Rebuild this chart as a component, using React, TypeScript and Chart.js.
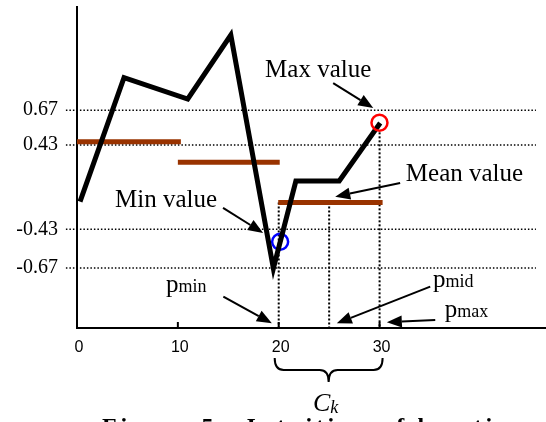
import React, { useEffect, useRef } from 'react';
import { Chart, registerables } from 'chart.js';

Chart.register(...registerables);

// ---- data ----
const seriesX = [0.3, 4.66, 10.98, 15.25, 19.47, 21.7, 26.0, 30.06];
const seriesY = [-0.148, 1.117, 0.9, 1.553, -0.828, 0.063, 0.063, 0.655];

const meanStart = [0, 10, 19.95];
const meanEnd = [10.3, 20.1, 30.3];
const meanValues = [0.464, 0.254, -0.156];

const yTickPositions = [0.786, 0.43, -0.43, -0.824];
const yTickLabels = ['0.67', '0.43', '-0.43', '-0.67'];
const xTicks = [0, 10, 20, 30];
const xRange = [0, 46.5];
const yRange = [-1.437, 1.839];
const guideRange = [-1.1, 45.5];

const markerX = [20, 25, 30];
const markerTop = [-0.156, -0.156, 0.56];

const maxPoint = [29.99, 0.658];
const minPoint = [20.14, -0.556];

const labelTexts = ['Max value', 'Mean value', 'Min value'];
const labelX = [18.65, 32.6, 3.77];
const labelY = [1.128, 0.063, -0.199];

const pSubs = ['min', 'mid', 'max'];
const pX = [8.83, 35.3, 36.47];
const pY = [-1.069, -1.018, -1.324];

const arrowFromX = [25.4, 32.04, 14.48, 14.51, 35.02, 35.52];
const arrowFromY = [1.063, 0.043, -0.212, -1.117, -1.015, -1.355];
const arrowToX = [29.37, 25.6, 18.45, 19.32, 25.76, 30.72];
const arrowToY = [0.808, -0.097, -0.467, -1.389, -1.389, -1.379];

const braceRange = [19.6, 30.3];
const clusterLabel = ['C', 'k'];
const caption = 'Figure 5.  Intuition of location';

const SERIF = '"Liberation Serif", "Times New Roman", serif';

function drawArrow(ctx: CanvasRenderingContext2D, x1: number, y1: number, x2: number, y2: number) {
  const dx = x2 - x1, dy = y2 - y1;
  const len = Math.hypot(dx, dy);
  const ux = dx / len, uy = dy / len;
  const head = 15, half = 6;
  const bx = x2 - ux * head, by = y2 - uy * head;
  ctx.beginPath();
  ctx.moveTo(x1, y1);
  ctx.lineTo(bx, by);
  ctx.stroke();
  ctx.beginPath();
  ctx.moveTo(x2, y2);
  ctx.lineTo(bx - uy * half, by + ux * half);
  ctx.lineTo(bx + uy * half, by - ux * half);
  ctx.closePath();
  ctx.fill();
}

const annotationPlugin = {
  id: 'annotations',
  afterDraw(chart: any) {
    const ctx: CanvasRenderingContext2D = chart.ctx;
    const xs = chart.scales.x, ys = chart.scales.y;
    const px = (v: number) => xs.getPixelForValue(v);
    const py = (v: number) => ys.getPixelForValue(v);
    ctx.save();
    ctx.strokeStyle = '#000';
    ctx.fillStyle = '#000';
    ctx.lineWidth = 2;
    // inward tick marks
    xTicks.forEach((t) => {
      ctx.beginPath();
      ctx.moveTo(px(t), ys.bottom);
      ctx.lineTo(px(t), ys.bottom - 6);
      ctx.stroke();
    });
    // text labels
    ctx.textAlign = 'left';
    ctx.textBaseline = 'alphabetic';
    ctx.font = `25px ${SERIF}`;
    labelTexts.forEach((t, i) => ctx.fillText(t, px(labelX[i]), py(labelY[i])));
    pSubs.forEach((s, i) => {
      const x = px(pX[i]), y = py(pY[i]);
      ctx.font = `25px ${SERIF}`;
      ctx.fillText('p', x, y);
      const w = ctx.measureText('p').width;
      ctx.font = `18px ${SERIF}`;
      ctx.fillText(s, x + w, y);
    });
    // arrows
    ctx.lineWidth = 2;
    arrowFromX.forEach((_, i) => {
      drawArrow(ctx, px(arrowFromX[i]), py(arrowFromY[i]), px(arrowToX[i]), py(arrowToY[i]));
    });
    // brace
    const xL = px(braceRange[0]), xR = px(braceRange[1]);
    const c = (xL + xR) / 2;
    const yT = ys.bottom + 30, yM = ys.bottom + 42, yB = ys.bottom + 54;
    const r = 9;
    ctx.lineWidth = 2;
    ctx.beginPath();
    ctx.moveTo(xL, yT);
    ctx.quadraticCurveTo(xL, yM, xL + r, yM);
    ctx.lineTo(c - r, yM);
    ctx.quadraticCurveTo(c, yM, c, yB);
    ctx.quadraticCurveTo(c, yM, c + r, yM);
    ctx.lineTo(xR - r, yM);
    ctx.quadraticCurveTo(xR, yM, xR, yT);
    ctx.stroke();
    // C_k
    ctx.font = `italic 26px ${SERIF}`;
    const cw = ctx.measureText(clusterLabel[0]).width;
    ctx.font = `italic 18px ${SERIF}`;
    const kw = ctx.measureText(clusterLabel[1]).width;
    const startX = c - 3 - (cw + kw) / 2;
    ctx.font = `italic 26px ${SERIF}`;
    ctx.fillText(clusterLabel[0], startX, ys.bottom + 83);
    ctx.font = `italic 18px ${SERIF}`;
    ctx.fillText(clusterLabel[1], startX + cw, ys.bottom + 85);
    // caption
    ctx.font = `bold 24px ${SERIF}`;
    const w0 = ctx.measureText(caption).width;
    const spacing = Math.max(0, Math.min(6, (423 - w0) / (caption.length - 1)));
    (ctx as any).letterSpacing = `${spacing}px`;
    ctx.fillText(caption, 102, ys.bottom + 106);
    (ctx as any).letterSpacing = '0px';
    ctx.restore();
  },
};

function zeroPadding(scale: any) {
  scale.paddingTop = 0;
  scale.paddingBottom = 0;
  scale.paddingLeft = 0;
  scale.paddingRight = 0;
}

export default function App() {
  const ref = useRef<HTMLCanvasElement | null>(null);
  useEffect(() => {
    if (!ref.current) return;
    const dotted = { borderColor: '#000', borderWidth: 1.5, borderDash: [1.5, 2], pointRadius: 0, clip: false as any, order: 10 };
    const datasets: any[] = [];
    yTickPositions.forEach((v) => {
      datasets.push({ ...dotted, data: [{ x: guideRange[0], y: v }, { x: guideRange[1], y: v }] });
    });
    markerX.forEach((x, i) => {
      datasets.push({ ...dotted, borderWidth: 2, borderDash: [2, 2], data: [{ x, y: markerTop[i] }, { x, y: yRange[0] }] });
    });
    meanValues.forEach((v, i) => {
      datasets.push({
        data: [{ x: meanStart[i], y: v }, { x: meanEnd[i], y: v }],
        borderColor: '#993300', borderWidth: 5, pointRadius: 0, borderCapStyle: 'butt', order: 5,
      });
    });
    datasets.push({
      data: [{ x: minPoint[0], y: minPoint[1] }],
      showLine: false, pointRadius: 8, pointBorderWidth: 2.5, pointBorderColor: '#0000ff',
      pointBackgroundColor: 'rgba(0,0,0,0)', order: 3,
    });
    datasets.push({
      data: seriesX.map((x, i) => ({ x, y: seriesY[i] })),
      borderColor: '#000', borderWidth: 5, pointRadius: 0, tension: 0,
      borderJoinStyle: 'miter', borderCapStyle: 'butt', order: 2,
    });
    datasets.push({
      data: [{ x: maxPoint[0], y: maxPoint[1] }],
      showLine: false, pointRadius: 8, pointBorderWidth: 2.5, pointBorderColor: '#ff0000',
      pointBackgroundColor: 'rgba(0,0,0,0)', order: 1,
    });

    const chart = new Chart(ref.current, {
      type: 'line',
      data: { datasets },
      options: {
        animation: false,
        responsive: false,
        devicePixelRatio: 1,
        layout: { autoPadding: false, padding: { top: 7, right: 0, left: 0, bottom: 0 } },
        plugins: { legend: { display: false }, tooltip: { enabled: false } },
        scales: {
          x: {
            type: 'linear',
            min: xRange[0],
            max: xRange[1],
            grid: { display: false, drawTicks: false },
            border: { display: true, color: '#000', width: 2 },
            afterBuildTicks: (scale: any) => { scale.ticks = xTicks.map((value) => ({ value })); },
            afterFit: (scale: any) => { scale.height = 94; zeroPadding(scale); },
            ticks: {
              padding: 10,
              labelOffset: 2,
              color: '#000',
              font: { family: '"Liberation Sans", Arial, sans-serif', size: 16 },
              maxRotation: 0,
              autoSkip: false,
            },
          },
          y: {
            type: 'linear',
            min: yRange[0],
            max: yRange[1],
            grid: { display: false, drawTicks: false },
            border: { display: true, color: '#000', width: 2 },
            afterBuildTicks: (scale: any) => { scale.ticks = yTickPositions.map((value) => ({ value })); },
            afterFit: (scale: any) => { scale.width = 77; zeroPadding(scale); },
            ticks: {
              padding: 19,
              color: '#000',
              autoSkip: false,
              font: { family: SERIF, size: 20 },
              callback: (value: any) => {
                const idx = yTickPositions.findIndex((p) => Math.abs(p - Number(value)) < 1e-6);
                return idx >= 0 ? yTickLabels[idx] : '';
              },
            },
          },
        },
      },
      plugins: [annotationPlugin],
    });
    return () => chart.destroy();
  }, []);

  return (
    <div style={{ position: 'absolute', left: 0, top: 0, width: 546, height: 422, background: '#fff' }}>
      <canvas ref={ref} width={546} height={422} style={{ display: 'block', width: 546, height: 422 }} />
    </div>
  );
}
